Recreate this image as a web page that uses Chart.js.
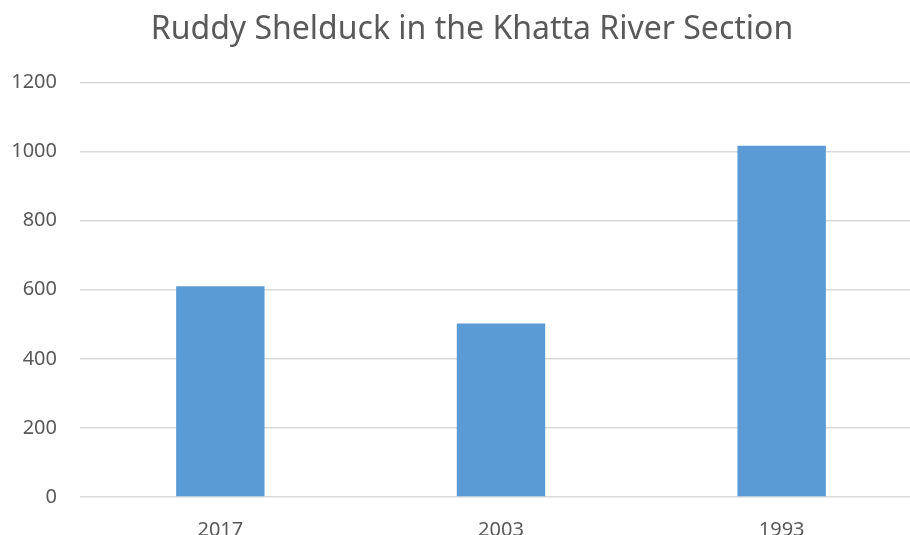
<!DOCTYPE html>
<html>
<head>
<meta charset="utf-8">
<script src="https://cdn.jsdelivr.net/npm/chart.js@4"></script>
<style>
  html, body { margin: 0; padding: 0; background: #fff; overflow: hidden; }
  #wrap { width: 922px; height: 539px; }
</style>
</head>
<body>
<div id="wrap"><canvas id="chart"></canvas></div>
<script>
// values
const years = ['2017', '2003', '1993'];
const counts = [610, 502, 1017];
const yTicks = [0, 200, 400, 600, 800, 1000, 1200];

const textColor = '#595959';
const fontFamily = "'Noto Sans', 'Open Sans', sans-serif";

// the title in the reference sits a little right of the canvas centre
const shiftTitle = {
	id: 'shiftTitle',
	afterLayout(chart) {
		if (chart.titleBlock) {
			chart.titleBlock.left = 22;
			chart.titleBlock.right = 922;
		}
	}
};

new Chart(document.getElementById('chart'), {
	type: 'bar',
	data: {
		labels: years,
		datasets: [{
			label: 'Ruddy Shelduck',
			data: counts,
			backgroundColor: '#5B9BD5',
			borderWidth: 0,
			barPercentage: 0.315,
			categoryPercentage: 1
		}]
	},
	plugins: [shiftTitle],
	options: {
		responsive: true,
		maintainAspectRatio: false,
		animation: false,
		layout: { padding: 0 },
		plugins: {
			legend: { display: false },
			tooltip: { enabled: false },
			title: {
				display: true,
				text: 'Ruddy Shelduck in the Khatta River Section',
				color: textColor,
				font: { family: fontFamily, size: 32, weight: 'normal' },
				padding: { top: 11, bottom: 33 }
			}
		},
		scales: {
			x: {
				grid: { display: false, drawTicks: false },
				border: { display: false },
				ticks: {
					color: textColor,
					font: { family: fontFamily, size: 20 },
					padding: 21.5
				},
				afterFit: (axis) => { axis.height = 42; }
			},
			y: {
				min: 0,
				max: 1200,
				afterBuildTicks: (axis) => { axis.ticks = yTicks.map(v => ({ value: v })); },
				grid: { color: '#D9D9D9', lineWidth: 1.5, drawTicks: false },
				border: { display: false },
				ticks: {
					color: textColor,
					font: { family: fontFamily, size: 20 },
					padding: 23,
					callback: (v) => String(v)
				},
				afterFit: (axis) => { axis.width = 80; }
			}
		}
	}
});
</script>
</body>
</html>
